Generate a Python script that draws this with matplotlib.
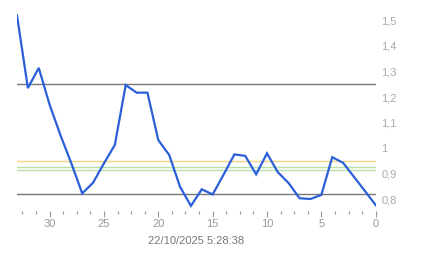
import matplotlib
matplotlib.use("Agg")
import matplotlib.pyplot as plt
from matplotlib.ticker import MultipleLocator, FuncFormatter

days = list(range(33, -1, -1))
values = [1.52, 1.235, 1.314, 1.17, 1.05, 0.94, 0.822, 0.864, 0.94, 1.012,
          1.247, 1.217, 1.217, 1.031, 0.973, 0.848, 0.773, 0.838, 0.818, 0.895,
          0.975, 0.969, 0.897, 0.979, 0.905, 0.862, 0.803, 0.80, 0.816, 0.964,
          0.942, 0.887, 0.832, 0.776]
gray_levels = [1.25, 0.82]
yellow_level = 0.95
green_levels = [0.925, 0.915]
y_ticks = [0.8, 0.9, 1.0, 1.1, 1.2, 1.3, 1.4, 1.5]
x_major = [30, 25, 20, 15, 10, 5, 0]
x_title = "22/10/2025 5:28:38"

plt.rcParams['font.family'] = ['Liberation Sans', 'DejaVu Sans']

fig = plt.figure(figsize=(4.43, 2.58), dpi=100)
W, H = 443, 258
left, right, top, bottom = 17, 375.7, 8, 211
ax = fig.add_axes([left / W, 1 - bottom / H, (right - left) / W, (bottom - top) / H])

for lv in gray_levels:
    ax.axhline(lv, color='#777777', lw=1.0, zorder=1)
ax.axhline(yellow_level, color='#f0d482', lw=1.0, zorder=1)
for lv in green_levels:
    ax.axhline(lv, color='#b8e0a8', lw=1.0, zorder=1)

ax.plot(days, values, color='#2b5fd9', lw=1.6, zorder=3, solid_joinstyle='miter')

ax.set_xlim(33, 0)
ax.set_ylim(0.753, 1.549)

for s in ax.spines.values():
    s.set_visible(False)

ax.set_xticks(x_major)
ax.xaxis.set_minor_locator(MultipleLocator(1.25))
ax.tick_params(axis='x', which='major', length=4, width=0.8, color='#999999',
               labelcolor='#999999', labelsize=8, pad=2)
ax.tick_params(axis='x', which='minor', length=2, width=0.8, color='#999999')

ax.yaxis.tick_right()
ax.set_yticks(y_ticks)
ax.yaxis.set_major_formatter(FuncFormatter(lambda v, p: f"{v:g}".replace('.', ',')))
ax.tick_params(axis='y', which='major', length=0, labelcolor='#aaaaaa',
               labelsize=8, pad=4)
ax.set_xlabel(x_title, color='#777777', fontsize=8, labelpad=5)

fig.savefig("out.png", dpi=100, facecolor='white')
